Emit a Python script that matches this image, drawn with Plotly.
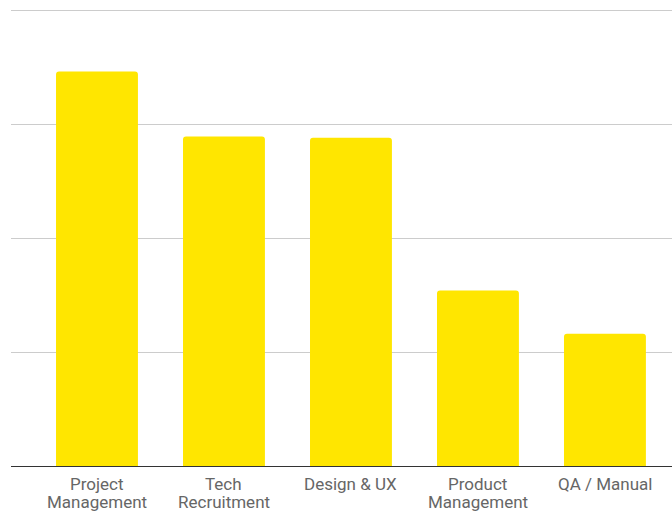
import plotly.graph_objects as go

categories = ["Project Management", "Tech Recruitment", "Design & UX", "Product Management", "QA / Manual"]
label_line1 = ["Project", "Tech", "Design & UX", "Product", "QA / Manual"]
label_line2 = ["Management", "Recruitment", "", "Management", ""]
values = [34.6, 28.9, 28.8, 15.4, 11.6]

fig = go.Figure(go.Bar(
    x=list(range(len(categories))),
    y=values,
    marker=dict(color="#FFE600", cornerradius=3, line=dict(width=0)),
    width=0.645,
    hovertext=categories,
))

annotations = []
for i, (a, b) in enumerate(zip(label_line1, label_line2)):
    for txt, shift in ((a, -18), (b, -36)):
        if txt:
            annotations.append(dict(
                x=i, xref="x", y=0, yref="paper", text=txt, showarrow=False,
                xanchor="center", yanchor="middle", yshift=shift,
                font=dict(family="Roboto", size=17, color="#666666"),
            ))

fig.update_layout(
    width=672, height=512, autosize=False,
    margin=dict(l=11, r=0, t=8, b=46, pad=0, autoexpand=False),
    plot_bgcolor="white", paper_bgcolor="white",
    showlegend=False,
    font=dict(family="Roboto", size=17, color="#666666"),
    annotations=annotations,
)
fig.update_xaxes(
    range=[-0.677, 4.528],
    showticklabels=False,
    showgrid=False, showline=True, linecolor="#333333", linewidth=1.2,
    ticks="", zeroline=False, automargin=False,
)
fig.update_yaxes(
    range=[0, 40.175], tickvals=[0, 10, 20, 30, 40], showticklabels=False,
    showgrid=True, gridcolor="#cccccc", gridwidth=1.2, zeroline=False, automargin=False,
)
fig.write_html("out.html", config={"displayModeBar": False},
               post_script="document.body.style.margin='0';")
